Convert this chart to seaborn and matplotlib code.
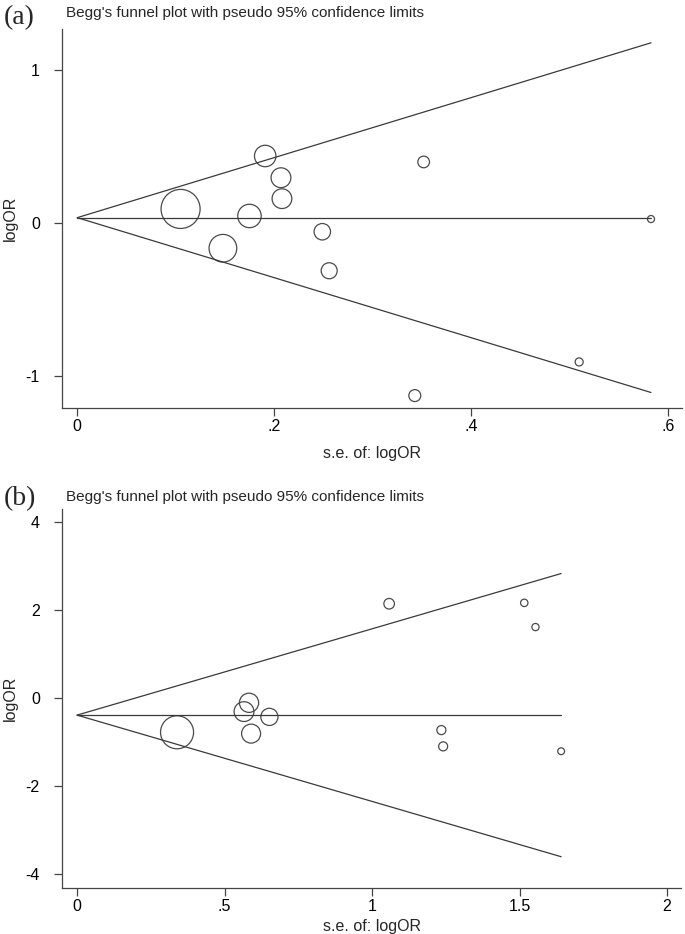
import numpy as np
import pandas as pd
import seaborn as sns
import matplotlib.pyplot as plt

# Panel (a): standard error and logOR of each study
se_a = [0.105, 0.148, 0.175, 0.191, 0.207, 0.208, 0.249, 0.256, 0.343, 0.352, 0.510, 0.583]
logor_a = [0.09, -0.167, 0.044, 0.436, 0.294, 0.157, -0.059, -0.314, -1.13, 0.397, -0.91, 0.024]
pooled_a = 0.033
xticks_a = [0, 0.2, 0.4, 0.6]
xticklabels_a = ['0', '.2', '.4', '.6']
yticks_a = [-1, 0, 1]

# Panel (b)
se_b = [0.339, 0.566, 0.583, 0.590, 0.652, 1.058, 1.235, 1.241, 1.516, 1.554, 1.641]
logor_b = [-0.77, -0.30, -0.10, -0.80, -0.42, 2.15, -0.72, -1.09, 2.17, 1.62, -1.20]
pooled_b = -0.38
xticks_b = [0, 0.5, 1, 1.5, 2]
xticklabels_b = ['0', '.5', '1', '1.5', '2']
yticks_b = [-4, -2, 0, 2, 4]

title = "Begg's funnel plot with pseudo 95% confidence limits"

sns.set_theme(style="ticks")
plt.rcParams['font.family'] = ['Liberation Sans', 'DejaVu Sans']

line_col = '#3a3a3a'
circ_col = '#4a4a4a'

fig = plt.figure(figsize=(6.85, 9.34), dpi=100)
W, H = 685, 934


def funnel(ax, se, logor, pooled, k, xlim, ylim, xticks, xticklabels, yticks, xlab_y):
    df = pd.DataFrame({'se': se, 'logOR': logor})
    # marker radius in px ~ k / se  (weights 1/se^2)
    sizes = (2 * (k / df['se']) * 0.72) ** 2
    smax = df['se'].max()
    lines = pd.DataFrame({'se': [0, smax]})
    lines['mid'] = pooled
    lines['upper'] = pooled + 1.96 * lines['se']
    lines['lower'] = pooled - 1.96 * lines['se']
    for col in ['mid', 'upper', 'lower']:
        sns.lineplot(data=lines, x='se', y=col, ax=ax, color=line_col,
                     linewidth=0.9, estimator=None)
    sns.scatterplot(data=df, x='se', y='logOR', ax=ax, s=sizes,
                    facecolor='none', edgecolor=circ_col, linewidth=0.9,
                    legend=False)
    ax.set_xlim(*xlim)
    ax.set_ylim(*ylim)
    ax.set_xticks(xticks)
    ax.set_xticklabels(xticklabels)
    ax.set_yticks(yticks)
    ax.set_yticklabels([str(t) for t in yticks])
    sns.despine(ax=ax)
    for sp in ['left', 'bottom']:
        ax.spines[sp].set_color('#444444')
        ax.spines[sp].set_linewidth(0.9)
    ax.tick_params(axis='both', labelsize=11.5, length=6, width=0.9,
                   color='#444444', labelcolor='black')
    ax.tick_params(axis='y', pad=10)
    ax.tick_params(axis='x', pad=2)
    ax.set_xlabel('s.e. of: logOR', fontsize=11.5)
    ax.set_ylabel('logOR', fontsize=11.5)
    ax.xaxis.set_label_coords(0.5, xlab_y)
    ax.yaxis.set_label_coords(-(62 - 18) / 619.5, 0.5)
    ax.patch.set_alpha(0)


ax_a = fig.add_axes([62 / W, 1 - 408.3 / H, 619.5 / W, 379 / H])
funnel(ax_a, se_a, logor_a, pooled_a, 2.05, (-0.0155, 0.614), (-1.213, 1.264),
       xticks_a, xticklabels_a, yticks_a, -0.10)

ax_b = fig.add_axes([62 / W, 1 - 887.7 / H, 619.5 / W, 378.4 / H])
funnel(ax_b, se_b, logor_b, pooled_b, 5.6, (-0.051, 2.049), (-4.3, 4.295),
       xticks_b, xticklabels_b, yticks_b, -0.082)

fig.text(66 / W, 1 - 13 / H, title, fontsize=11, va='center', ha='left')
fig.text(66 / W, 1 - 497 / H, title, fontsize=11, va='center', ha='left')
fig.text(4 / W, 1 - 18 / H, '(a)', fontsize=20, va='center', ha='left',
         family=['Liberation Serif'])
fig.text(4 / W, 1 - 499 / H, '(b)', fontsize=20, va='center', ha='left',
         family=['Liberation Serif'])

fig.savefig('out.png', dpi=100)
